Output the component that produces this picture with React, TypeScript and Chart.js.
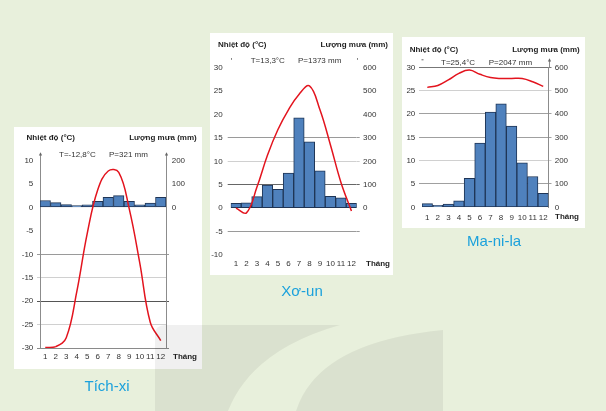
import React, { useEffect, useRef } from 'react';
import { Chart, registerables } from 'chart.js';

Chart.register(...registerables);

const FONT = '"Liberation Sans", Arial, Helvetica, sans-serif';

// ---------- data ----------
const MONTHS = ['1', '2', '3', '4', '5', '6', '7', '8', '9', '10', '11', '12'];

const TICHXI_TEMP = [-29.9, -29.7, -27.8, -18, -5.5, 3.8, 7.8, 7.5, -0.3, -11.8, -24.5, -28.4];
const TICHXI_RAIN = [30, 21, 13, 8, 12, 26, 44, 51, 26, 12, 19, 44];
const TICHXI_TEMP_TICKS = [10, 5, 0, -5, -10, -15, -20, -25, -30];
const TICHXI_RAIN_TICKS = [200, 100, 0, -100, -200, -300, -400, -500, -600];

const XOUN_TEMP = [0, -1, 4.5, 11.3, 16.8, 21, 24.3, 26.1, 21, 13.5, 5.5, -0.6];
const XOUN_RAIN = [21, 23, 49, 99, 81, 150, 386, 283, 159, 51, 44, 21];
const XOUN_TEMP_TICKS = [30, 25, 20, 15, 10, 5, 0, -5, -10];
const XOUN_RAIN_TICKS = [600, 500, 400, 300, 200, 100, 0, -100, -200];

const MANILA_TEMP = [25.7, 26.1, 27.3, 28.7, 29.4, 28.5, 27.8, 27.6, 27.6, 27.6, 26.9, 25.9];
const MANILA_RAIN = [16, 8, 14, 28, 124, 275, 408, 443, 348, 191, 132, 60];
const MANILA_TEMP_TICKS = [30, 25, 20, 15, 10, 5, 0];
const MANILA_RAIN_TICKS = [600, 500, 400, 300, 200, 100, 0];

// ---------- panel specs ----------
type TopKind = 'arrow' | 'dot' | 'tick' | 'none';
interface PanelSpec {
  id: string;
  box: { x: number; y: number; w: number; h: number };
  area: { l: number; r: number; t: number; b: number };
  temps: number[];
  rain: number[];
  tempTicks: number[];
  rainTicks: number[];
  tempRange: [number, number];
  rainRange: [number, number];
  gridColors: Record<string, string>;
  rainGridColors: Record<string, string>;
  leftBorder: boolean;
  rightBorder: boolean;
  xPad: number;
  yPad: number;
  y1Pad: number;
  leftTitleX: number;
  rightTitleX: number;
  titleY: number;
  tText: string;
  pText: string;
  tX: number;
  pX: number;
  statY: number;
  thangX: number;
  thangY: number;
  leftTop: TopKind;
  rightTop: TopKind;
  topExt: number;
}

const PANELS: PanelSpec[] = [
  {
    id: 'tichxi',
    box: { x: 14, y: 127, w: 188, h: 242 },
    area: { l: 26, r: 152, t: 33.7, b: 221 },
    temps: TICHXI_TEMP,
    rain: TICHXI_RAIN,
    tempTicks: TICHXI_TEMP_TICKS,
    rainTicks: TICHXI_RAIN_TICKS,
    tempRange: [-30, 10],
    rainRange: [-600, 200],
    gridColors: { '-10': '#9a9a9a', '-15': '#d0d0d0', '-20': '#555555', '-25': '#d0d0d0', '-30': '#8a8a8a' },
    rainGridColors: { '-200': '#9a9a9a', '-400': '#555555', '-600': '#8a8a8a' },
    leftBorder: true,
    rightBorder: true,
    xPad: 4,
    yPad: 3.7,
    y1Pad: 2.7,
    leftTitleX: 12.5,
    rightTitleX: 182.7,
    titleY: 10.7,
    tText: 'T=-12,8°C',
    pText: 'P=321 mm',
    tX: 45,
    pX: 95,
    statY: 27.3,
    thangX: 159,
    thangY: 229.7,
    leftTop: 'arrow',
    rightTop: 'arrow',
    topExt: 7.5,
  },
  {
    id: 'xoun',
    box: { x: 210, y: 33, w: 183, h: 242 },
    area: { l: 20.7, r: 146.7, t: 34.7, b: 222 },
    temps: XOUN_TEMP,
    rain: XOUN_RAIN,
    tempTicks: XOUN_TEMP_TICKS,
    rainTicks: XOUN_RAIN_TICKS,
    tempRange: [-10, 30],
    rainRange: [-200, 600],
    gridColors: { '15': '#9a9a9a', '10': '#d0d0d0', '5': '#666666', '-5': '#9a9a9a' },
    rainGridColors: { '300': '#9a9a9a', '200': '#d0d0d0', '100': '#666666', '-100': '#9a9a9a' },
    leftBorder: false,
    rightBorder: false,
    xPad: 3.5,
    yPad: 5,
    y1Pad: 3.3,
    leftTitleX: 8,
    rightTitleX: 178,
    titleY: 11.3,
    tText: 'T=13,3°C',
    pText: 'P=1373 mm',
    tX: 40.7,
    pX: 88,
    statY: 28,
    thangX: 156,
    thangY: 230.3,
    leftTop: 'dot',
    rightTop: 'dot',
    topExt: 9.5,
  },
  {
    id: 'manila',
    box: { x: 402, y: 37, w: 183, h: 191 },
    area: { l: 20, r: 146.5, t: 30.3, b: 170.3 },
    temps: MANILA_TEMP,
    rain: MANILA_RAIN,
    tempTicks: MANILA_TEMP_TICKS,
    rainTicks: MANILA_RAIN_TICKS,
    tempRange: [0, 30],
    rainRange: [0, 600],
    gridColors: { '30': '#777777', '25': '#d0d0d0', '20': '#a0a0a0', '15': '#a0a0a0', '10': '#d0d0d0', '5': '#a0a0a0' },
    rainGridColors: { '600': '#777777', '500': '#d0d0d0', '400': '#a0a0a0', '300': '#a0a0a0', '200': '#d0d0d0', '100': '#a0a0a0' },
    leftBorder: false,
    rightBorder: true,
    xPad: 5.5,
    yPad: 3.7,
    y1Pad: 3.2,
    leftTitleX: 7.7,
    rightTitleX: 177.7,
    titleY: 12.3,
    tText: 'T=25,4°C',
    pText: 'P=2047 mm',
    tX: 39,
    pX: 86.7,
    statY: 25.3,
    thangX: 153,
    thangY: 179.7,
    leftTop: 'tick',
    rightTop: 'arrow',
    topExt: 8,
  },
];

const TITLES = [
  { text: 'Tích-xi', cx: 107, cy: 386 },
  { text: 'Xơ-un', cx: 302, cy: 291 },
  { text: 'Ma-ni-la', cx: 494, cy: 241 },
];

function ClimatePanel({ spec }: { spec: PanelSpec }) {
  const ref = useRef<HTMLCanvasElement>(null);
  useEffect(() => {
    const s = spec;
    const canvas = ref.current;
    if (!canvas) return;
    const decor = {
      id: 'decor_' + s.id,
      afterDraw(chart: any) {
        const ctx = chart.ctx as CanvasRenderingContext2D;
        const a = chart.chartArea;
        ctx.save();
        ctx.textBaseline = 'middle';
        ctx.fillStyle = '#1e1e1e';
        ctx.font = `bold 8px ${FONT}`;
        ctx.textAlign = 'left';
        ctx.fillText('Nhiệt độ (°C)', s.leftTitleX, s.titleY);
        ctx.textAlign = 'right';
        ctx.fillText('Lượng mưa (mm)', s.rightTitleX, s.titleY);
        ctx.textAlign = 'left';
        ctx.fillText('Tháng', s.thangX, s.thangY);
        ctx.font = `8px ${FONT}`;
        ctx.fillStyle = '#333333';
        ctx.fillText(s.tText, s.tX, s.statY);
        ctx.fillText(s.pText, s.pX, s.statY);

        const drawTop = (xRaw: number, kind: TopKind) => {
          const x = Math.round(xRaw) + 0.5;
          const yTop = a.top - s.topExt;
          ctx.strokeStyle = '#8c8c8c';
          ctx.fillStyle = '#666666';
          ctx.lineWidth = 1;
          if (kind === 'arrow') {
            ctx.beginPath();
            ctx.moveTo(x, yTop + 1);
            ctx.lineTo(x, a.top);
            ctx.stroke();
            ctx.beginPath();
            ctx.moveTo(x, yTop - 1);
            ctx.lineTo(x - 1.6, yTop + 2.2);
            ctx.lineTo(x + 1.6, yTop + 2.2);
            ctx.closePath();
            ctx.fill();
          } else if (kind === 'dot') {
            ctx.fillRect(x - 0.5, yTop, 1, 1.5);
          } else if (kind === 'tick') {
            ctx.fillRect(x - 1, yTop, 2, 1);
          }
        };
        drawTop(a.left, s.leftTop);
        drawTop(a.right, s.rightTop);
        ctx.restore();
      },
    };

    const tickFont = { family: FONT, size: 8 };
    const chart = new Chart(canvas, {
      type: 'bar',
      data: {
        labels: MONTHS,
        datasets: [
          {
            type: 'line',
            label: 'Nhiệt độ',
            data: s.temps,
            yAxisID: 'y',
            borderColor: '#e3141e',
            borderWidth: 1.5,
            pointRadius: 0,
            tension: 0.4,
            fill: false,
            order: 0,
          } as any,
          {
            type: 'bar',
            label: 'Lượng mưa',
            data: s.rain,
            yAxisID: 'y1',
            backgroundColor: '#4f81bd',
            borderColor: '#1f3556',
            borderWidth: 1,
            borderSkipped: false,
            barPercentage: 1,
            categoryPercentage: 1,
            order: 1,
          } as any,
        ],
      },
      options: {
        responsive: false,
        animation: false,
        devicePixelRatio: 1,
        layout: { padding: { top: s.area.t, left: 0, right: 0, bottom: 0 } },
        plugins: {
          legend: { display: false },
          tooltip: { enabled: false },
          title: { display: false },
        },
        scales: {
          x: {
            type: 'category',
            offset: true,
            grid: { display: false, drawTicks: false },
            border: { display: false },
            ticks: {
              autoSkip: false,
              maxRotation: 0,
              minRotation: 0,
              padding: s.xPad,
              color: '#333333',
              font: tickFont,
            },
            afterFit: (sc: any) => {
              sc.height = s.box.h - s.area.b;
            },
          },
          y: {
            type: 'linear',
            position: 'left',
            min: s.tempRange[0],
            max: s.tempRange[1],
            afterBuildTicks: (sc: any) => {
              sc.ticks = s.tempTicks.map((v) => ({ value: v }));
            },
            ticks: {
              padding: s.yPad,
              color: '#333333',
              font: tickFont,
              callback: (v: any) => String(v),
            },
            grid: {
              drawOnChartArea: true,
              drawTicks: true,
              tickLength: 3,
              lineWidth: 1,
              color: (ctx: any) => s.gridColors[String(ctx.tick && ctx.tick.value)] || 'rgba(0,0,0,0)',
            },
            border: { display: s.leftBorder, color: '#8c8c8c', width: 1 },
            afterFit: (sc: any) => {
              sc.width = s.area.l;
            },
          },
          y1: {
            type: 'linear',
            position: 'right',
            min: s.rainRange[0],
            max: s.rainRange[1],
            afterBuildTicks: (sc: any) => {
              sc.ticks = s.rainTicks.map((v) => ({ value: v }));
            },
            ticks: {
              padding: s.y1Pad,
              color: '#333333',
              font: tickFont,
              callback: (v: any) => (Number(v) >= 0 ? String(v) : ''),
            },
            grid: {
              drawOnChartArea: false,
              drawTicks: true,
              tickLength: 3,
              lineWidth: 1,
              color: (ctx: any) => s.rainGridColors[String(ctx.tick && ctx.tick.value)] || 'rgba(0,0,0,0)',
            },
            border: { display: s.rightBorder, color: '#8c8c8c', width: 1 },
            afterFit: (sc: any) => {
              sc.width = s.box.w - s.area.r;
            },
          },
        },
      } as any,
      plugins: [decor],
    });
    return () => chart.destroy();
  }, [spec]);

  return (
    <canvas
      ref={ref}
      width={spec.box.w}
      height={spec.box.h}
      style={{
        position: 'absolute',
        left: spec.box.x,
        top: spec.box.y,
        width: spec.box.w,
        height: spec.box.h,
        background: '#ffffff',
        display: 'block',
      }}
    />
  );
}

export default function App() {
  return (
    <div
      style={{
        position: 'fixed',
        left: 0,
        top: 0,
        width: 606,
        height: 411,
        background: '#e8f0dc',
        overflow: 'hidden',
        fontFamily: FONT,
      }}
    >
      {PANELS.map((p) => (
        <ClimatePanel key={p.id} spec={p} />
      ))}
      <svg
        width={606}
        height={411}
        style={{ position: 'absolute', left: 0, top: 0, pointerEvents: 'none' }}
      >
        <path d="M155 411 L155 335 Q155 325 165 325 L340 325 Q252 350 228 411 Z" fill="rgba(0,0,0,0.06)" />
        <path d="M296 411 Q318 342 443 330 L443 411 Z" fill="rgba(0,0,0,0.06)" />
      </svg>
      {TITLES.map((t) => (
        <div
          key={t.text}
          style={{
            position: 'absolute',
            left: t.cx - 60,
            width: 120,
            top: t.cy - 9,
            height: 18,
            lineHeight: '18px',
            textAlign: 'center',
            fontSize: 15,
            color: '#1ba1dc',
            fontFamily: FONT,
          }}
        >
          {t.text}
        </div>
      ))}
    </div>
  );
}
